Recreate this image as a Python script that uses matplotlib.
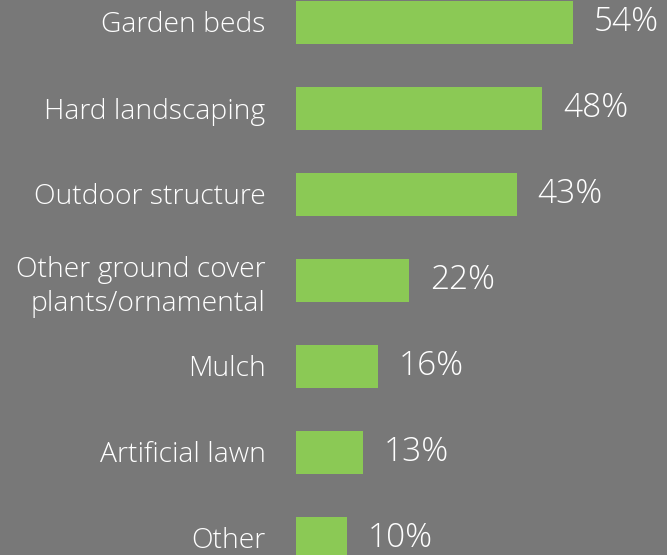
import matplotlib.pyplot as plt

# Data
categories = ['Garden beds', 'Hard landscaping', 'Outdoor structure',
              'Other ground cover\nplants/ornamental', 'Mulch',
              'Artificial lawn', 'Other']
values = [54, 48, 43, 22, 16, 13, 10]

bg = '#787878'
green = '#8bc955'

plt.rcParams['font.family'] = ['Open Sans', 'DejaVu Sans']

fig = plt.figure(figsize=(6.67, 5.55), dpi=100, facecolor=bg)
ax = fig.add_axes([296 / 667, 0, 371 / 667, 1])
ax.set_facecolor(bg)

pos = list(range(len(categories)))
ax.barh(pos, values, height=0.5, color=green)

ax.set_xlim(0, 371 / 5.13)
ax.set_ylim((555 - 22) / 86, -22 / 86)

ax.set_yticks(pos)
ax.set_yticklabels(categories, fontsize=20.3, color='white', linespacing=1.3,
                   fontweight='light')
ax.tick_params(axis='y', length=0, pad=22)
ax.set_xticks([])
for s in ax.spines.values():
    s.set_visible(False)

# value labels
for p, v in zip(pos, values):
    ax.annotate(f'{v}%', (v, p), xytext=(15, 0), textcoords='offset points',
                va='center', ha='left', fontsize=24, color='white',
                fontweight='light')

fig.savefig('out.png', dpi=100, facecolor=bg)
